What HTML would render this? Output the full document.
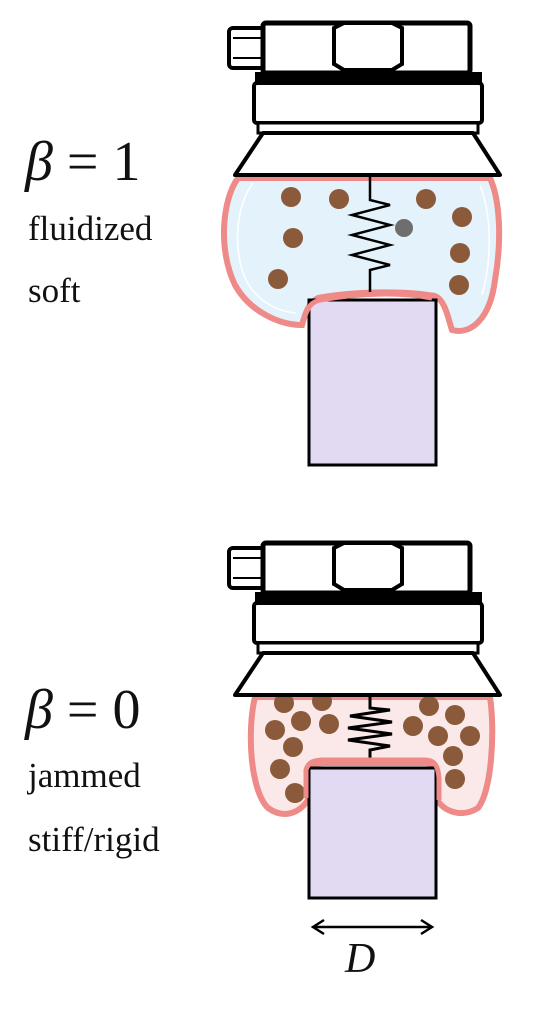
<!DOCTYPE html>
<html><head><meta charset="utf-8"><style>
html,body{margin:0;padding:0;background:#fff;width:535px;height:1024px;overflow:hidden}
svg{display:block}
text{font-family:"Liberation Serif",serif;fill:#111}
</style></head><body>
<svg width="535" height="1024" viewBox="0 0 535 1024">
<defs>
<g id="head">
  <rect x="229" y="28" width="36" height="40" rx="4" fill="#fff" stroke="#000" stroke-width="4"/>
  <line x1="233" y1="38" x2="262" y2="38" stroke="#000" stroke-width="2"/>
  <line x1="233" y1="58" x2="262" y2="58" stroke="#000" stroke-width="2"/>
  <rect x="263" y="23" width="207" height="50" rx="3" fill="#fff" stroke="#000" stroke-width="5"/>
  <path d="M334,28 L344,23 L392,23 L402,28 L402,64 L392,70 L344,70 L334,64 Z" fill="#fff" stroke="#000" stroke-width="4"/>
  <rect x="255" y="72" width="227" height="11" fill="#000"/>
  <rect x="254" y="83" width="228" height="40" rx="3" fill="#fff" stroke="#000" stroke-width="4"/>
  <rect x="258" y="123" width="220" height="10" fill="#fff" stroke="#000" stroke-width="3"/>
  <path d="M263,133 L473,133 L500,175 L235,175 Z" fill="#fff" stroke="#000" stroke-width="4" stroke-linejoin="round"/>
</g>
</defs>

<g>
  <path d="M238,178 C222,200 218,250 235,285 C250,312 280,325 302,325 C306,310 310,302 318,298 C350,292 400,290 435,296 C445,300 448,318 452,330 C470,335 490,320 495,280 C502,240 500,200 490,178 Z" fill="#e4f2fb" stroke="#ee8a88" stroke-width="6"/>
  <path d="M253,183 C236,205 232,250 246,280 C258,303 280,312 296,313 M480,185 C492,215 492,260 482,295" fill="none" stroke="#fff" stroke-width="1.5"/>
  <g fill="#8b5a3a">
    <circle cx="291" cy="197" r="10"/><circle cx="339" cy="199" r="10"/><circle cx="426" cy="199" r="10"/>
    <circle cx="462" cy="217" r="10"/><circle cx="293" cy="238" r="10"/><circle cx="460" cy="253" r="10"/>
    <circle cx="278" cy="279" r="10"/><circle cx="459" cy="285" r="10"/>
  </g>
  <circle cx="404" cy="228" r="9" fill="#6e6e6e"/>
  <path d="M370,175 L370,200 L390,205 L352,215 L390,225 L352,235 L390,245 L352,255 L390,265 L370,270 L370,295" fill="none" stroke="#000" stroke-width="2.5"/>
  <rect x="309" y="300" width="127" height="165" fill="#e2d9f3" stroke="#000" stroke-width="3"/>
  <path d="M303,322 C308,305 312,302 320,300 C360,293 400,292 432,298" fill="none" stroke="#ee8a88" stroke-width="5"/>
  <use href="#head"/>
</g>

<g>
  <path d="M255,697 C247,730 250,790 268,808 C285,820 300,812 308,800 L308,772 C310,765 315,763 325,763 L425,763 C432,763 436,768 437,780 L437,800 C445,812 462,818 478,808 C492,790 495,730 490,697 Z" fill="#fbe9ea" stroke="#ee8a88" stroke-width="6"/>
  <g fill="#8b5a3a">
    <circle cx="284" cy="703" r="10"/><circle cx="322" cy="701" r="10"/><circle cx="301" cy="721" r="10"/>
    <circle cx="329" cy="724" r="10"/><circle cx="275" cy="730" r="10"/><circle cx="293" cy="747" r="10"/>
    <circle cx="280" cy="769" r="10"/><circle cx="295" cy="793" r="10"/>
    <circle cx="429" cy="706" r="10"/><circle cx="455" cy="715" r="10"/><circle cx="413" cy="726" r="10"/>
    <circle cx="438" cy="736" r="10"/><circle cx="470" cy="736" r="10"/><circle cx="453" cy="756" r="10"/>
    <circle cx="455" cy="779" r="10"/>
  </g>
  <path d="M370,695 L370,708 L390,710 L350,716 L392,722 L348,728 L392,734 L348,740 L390,746 L370,750 L370,758" fill="none" stroke="#000" stroke-width="3"/>
  <rect x="309" y="768" width="127" height="130" fill="#e2d9f3" stroke="#000" stroke-width="3"/>
  <path d="M306,798 L306,770 C308,762 314,760 324,760 L425,760 C434,760 438,765 439,778 L439,800" fill="none" stroke="#ee8a88" stroke-width="5"/>
  <g transform="translate(0,520)"><use href="#head"/></g>
</g>

<g stroke="#000" stroke-width="2.5" fill="none">
  <line x1="314" y1="927" x2="431" y2="927"/>
  <path d="M324,920 L313,927 L324,934 M421,920 L432,927 L421,934"/>
</g>
<text x="345" y="972" font-size="42" font-style="italic">D</text>

<text x="25" y="180" font-size="56"><tspan font-style="italic">β</tspan> = 1</text>
<text x="28" y="240" font-size="35">fluidized</text>
<text x="28" y="302" font-size="35">soft</text>
<text x="25" y="728" font-size="56"><tspan font-style="italic">β</tspan> = 0</text>
<text x="28" y="787" font-size="35">jammed</text>
<text x="28" y="851" font-size="35">stiff/rigid</text>
</svg>
</body></html>
